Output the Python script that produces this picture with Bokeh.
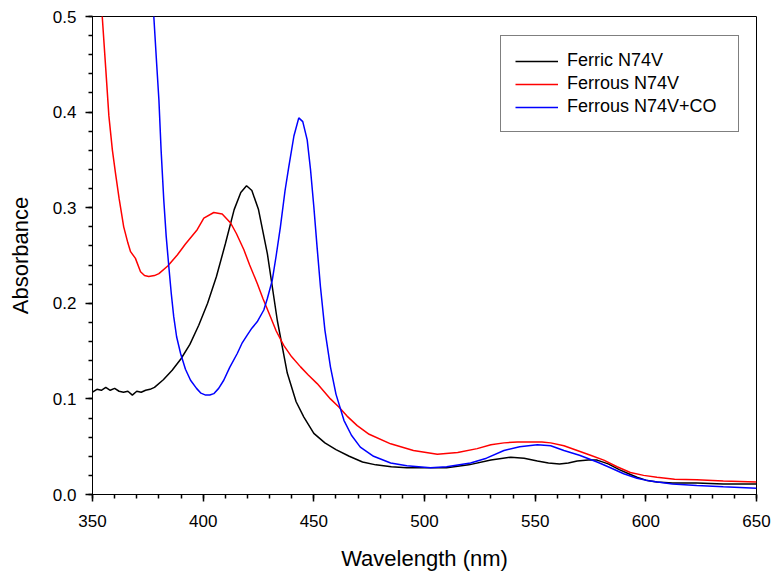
from bokeh.plotting import figure
from bokeh.models import Range1d, FixedTicker, Legend, LegendItem, PrintfTickFormatter
from bokeh.embed import file_html
from bokeh.resources import INLINE

ferric_wl = [350, 352, 354, 356, 358, 360, 362, 364, 366, 368, 370, 372, 374, 376, 378, 382, 386, 390, 394, 398,
             402, 406, 410, 414, 417, 419.6, 422, 425, 429, 433.5, 438, 442, 445.5, 450, 455, 460, 466, 472, 478, 485,
             492, 500, 510, 520, 530, 539, 545, 551, 556, 561, 565, 569, 574, 578, 583, 588, 592, 596, 600, 605,
             612, 623, 635, 650]
ferric_abs = [0.107, 0.110, 0.109, 0.112, 0.109, 0.111, 0.108, 0.107, 0.108, 0.104, 0.108, 0.107, 0.109, 0.110, 0.112,
              0.120, 0.130, 0.142, 0.157, 0.177, 0.200, 0.228, 0.262, 0.298, 0.316, 0.323, 0.318, 0.298, 0.252, 0.182,
              0.127, 0.097, 0.081, 0.064, 0.054, 0.047, 0.040, 0.034, 0.031, 0.029, 0.028, 0.028, 0.028, 0.031, 0.036,
              0.039, 0.038, 0.035, 0.033, 0.032, 0.033, 0.035, 0.036, 0.036, 0.032, 0.026, 0.022, 0.018, 0.015, 0.013,
              0.012, 0.012, 0.011, 0.011]

ferrous_wl = [350, 352, 354.4, 356, 357.4, 359, 360.4, 362, 364.1, 366, 367.2, 369.4, 371.7, 373.5, 375.4, 378, 380,
              384, 388.3, 392, 397.3, 400.3, 404.8, 408.6, 412.4, 415, 418.4, 421, 424.4, 427, 430.4, 433, 436.4, 440,
              444, 447.5, 451.5, 457.5, 461.3, 465, 469.6, 475, 484.7, 495, 505.8, 515, 523.8, 530, 535.9, 542, 548,
              553, 557, 563, 569, 575, 581, 587, 593, 599, 605, 613, 623, 635, 650]
ferrous_abs = [0.60, 0.55, 0.50, 0.445, 0.396, 0.36, 0.336, 0.31, 0.280, 0.263, 0.254, 0.247, 0.233, 0.229, 0.228,
               0.229, 0.231, 0.239, 0.2505, 0.262, 0.277, 0.289, 0.295, 0.2935, 0.284, 0.273, 0.256, 0.240, 0.221,
               0.205, 0.186, 0.171, 0.156, 0.144, 0.1335, 0.125, 0.116, 0.100, 0.0915, 0.082, 0.072, 0.063, 0.053,
               0.046, 0.042, 0.044, 0.048, 0.052, 0.054, 0.055, 0.055, 0.055, 0.054, 0.051, 0.046, 0.041, 0.036,
               0.029, 0.023, 0.020, 0.018, 0.016, 0.0154, 0.014, 0.013]

co_wl = [376, 377.7, 379, 380, 381, 382.2, 383.3, 384.5, 385.6, 386.7, 388, 389.8, 392, 394.3, 397, 399, 401.1, 403,
         404.8, 407, 409.3, 412, 415.4, 417.5, 419.9, 422, 424.4, 427.4, 429, 431.2, 433, 434.9, 437, 438.7, 441,
         443.2, 445, 447, 448.5, 450, 451.5, 453, 455, 457.5, 460, 463.6, 467, 471, 477, 484.7, 492, 502.7, 510,
         520.8, 528, 535.9, 543, 551, 557, 563, 570, 578, 584, 590, 596, 602, 612, 623, 635, 650]
co_abs = [0.60, 0.50, 0.45, 0.413, 0.36, 0.308, 0.27, 0.238, 0.21, 0.186, 0.165, 0.1475, 0.131, 0.1195, 0.111, 0.106,
          0.104, 0.104, 0.1055, 0.111, 0.1195, 0.133, 0.1475, 0.158, 0.1667, 0.174, 0.1806, 0.193, 0.205, 0.224, 0.25,
          0.280, 0.318, 0.343, 0.375, 0.394, 0.390, 0.371, 0.340, 0.301, 0.258, 0.217, 0.172, 0.1335, 0.105, 0.0776,
          0.062, 0.0496, 0.040, 0.033, 0.030, 0.028, 0.029, 0.033, 0.038, 0.046, 0.050, 0.052, 0.051, 0.046, 0.041,
          0.034, 0.028, 0.0217, 0.017, 0.014, 0.011, 0.0094, 0.008, 0.0066]

series_names = ["Ferric N74V", "Ferrous N74V", "Ferrous N74V+CO"]
x_ticks = [350, 400, 450, 500, 550, 600, 650]
x_minor = [350, 360, 370, 380, 390, 400, 410, 420, 430, 440, 450, 460, 470, 480, 490, 500, 510, 520, 530, 540,
           550, 560, 570, 580, 590, 600, 610, 620, 630, 640, 650]
y_ticks = [0.0, 0.1, 0.2, 0.3, 0.4, 0.5]
y_minor = [0.0, 0.02, 0.04, 0.06, 0.08, 0.1, 0.12, 0.14, 0.16, 0.18, 0.2, 0.22, 0.24, 0.26, 0.28, 0.3, 0.32, 0.34,
           0.36, 0.38, 0.4, 0.42, 0.44, 0.46, 0.48, 0.5]

FONT = "Liberation Sans"

p = figure(width=773, height=573, output_backend="svg", toolbar_location=None,
           x_range=Range1d(350, 650), y_range=Range1d(0, 0.5))
p.min_border_left = 92
p.min_border_right = 17
p.min_border_top = 16
p.min_border_bottom = 79
p.background_fill_color = "white"
p.border_fill_color = "white"
p.outline_line_color = "black"
p.outline_line_width = 1
p.xgrid.visible = False
p.ygrid.visible = False

r1 = p.line(ferric_wl, ferric_abs, line_color="black", line_width=1.5)
r2 = p.line(ferrous_wl, ferrous_abs, line_color="#ff0000", line_width=1.5)
r3 = p.line(co_wl, co_abs, line_color="#0000ff", line_width=1.5)

xa = p.xaxis[0]
xa.ticker = FixedTicker(ticks=x_ticks, minor_ticks=x_minor)
xa.axis_label = "Wavelength (nm)"
ya = p.yaxis[0]
ya.ticker = FixedTicker(ticks=y_ticks, minor_ticks=y_minor)
ya.formatter = PrintfTickFormatter(format="%.1f")
ya.axis_label = "Absorbance"

for ax in (xa, ya):
    ax.axis_line_color = "black"
    ax.axis_line_width = 1
    ax.major_tick_line_color = "black"
    ax.major_tick_line_width = 1.5
    ax.minor_tick_line_color = "black"
    ax.minor_tick_line_width = 1.5
    ax.major_tick_in = 0
    ax.major_tick_out = 7
    ax.minor_tick_in = 0
    ax.minor_tick_out = 4
    ax.major_label_text_font = FONT
    ax.major_label_text_font_size = "17px"
    ax.major_label_text_color = "black"
    ax.axis_label_text_font = FONT
    ax.axis_label_text_font_size = "22px"
    ax.axis_label_text_font_style = "normal"
    ax.axis_label_text_color = "black"

xa.major_label_standoff = 13
xa.axis_label_standoff = 16
ya.major_label_standoff = 9
ya.axis_label_standoff = 17

legend = Legend(items=[LegendItem(label=series_names[0], renderers=[r1]),
                       LegendItem(label=series_names[1], renderers=[r2]),
                       LegendItem(label=series_names[2], renderers=[r3])],
                location=(408, 362))
legend.border_line_color = "black"
legend.border_line_width = 1
legend.background_fill_alpha = 1
legend.label_text_font = FONT
legend.label_text_font_size = "18px"
legend.label_text_color = "black"
legend.glyph_width = 43
legend.glyph_height = 18
legend.label_height = 18
legend.label_width = 157
legend.label_standoff = 9
legend.spacing = 2
legend.padding = 14
legend.margin = 0
p.add_layout(legend, "center")

open("out.html", "w").write(file_html(p, INLINE))
